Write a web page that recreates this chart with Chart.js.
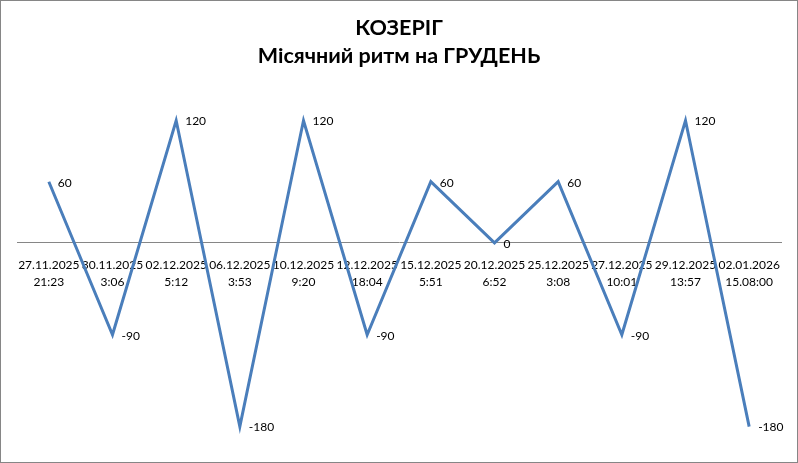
<!DOCTYPE html>
<html>
<head>
<meta charset="utf-8">
<script src="https://cdn.jsdelivr.net/npm/chart.js@4"></script>
<style>
  html, body { margin: 0; padding: 0; background: #fff; }
  #wrap { width: 798px; height: 463px; position: relative; }
</style>
</head>
<body>
<div id="wrap"><canvas id="rhythmChart"></canvas></div>
<script>
// дати та час (два рядки підпису)
const dateLabels = [
    ['27.11.2025', '21:23'],
    ['30.11.2025', '3:06'],
    ['02.12.2025', '5:12'],
    ['06.12.2025', '3:53'],
    ['10.12.2025', '9:20'],
    ['12.12.2025', '18:04'],
    ['15.12.2025', '5:51'],
    ['20.12.2025', '6:52'],
    ['25.12.2025', '3:08'],
    ['27.12.2025', '10:01'],
    ['29.12.2025', '13:57'],
    ['02.01.2026', '15.08:00']
];
const rhythmValues = [60, -90, 120, -180, 120, -90, 60, 0, 60, -90, 120, -180];
const titleLines = ['КОЗЕРІГ', 'Місячний ритм на ГРУДЕНЬ'];

const FONT = 'Lato, "Open Sans", sans-serif';

// підписи значень праворуч від точок
const valueLabels = {
    id: 'valueLabels',
    afterDatasetsDraw(chart) {
        const ctx = chart.ctx;
        const meta = chart.getDatasetMeta(0);
        ctx.save();
        ctx.font = '12px ' + FONT;
        ctx.fillStyle = '#000';
        ctx.textAlign = 'left';
        ctx.textBaseline = 'middle';
        meta.data.forEach((pt, i) => {
            ctx.fillText(String(rhythmValues[i]), pt.x + 9, pt.y + 1);
        });
        ctx.restore();
    }
};

// рамка навколо всього полотна
const outerBorder = {
    id: 'outerBorder',
    afterDraw(chart) {
        const ctx = chart.ctx;
        ctx.save();
        ctx.strokeStyle = '#868686';
        ctx.lineWidth = 1;
        ctx.strokeRect(0.5, 0.5, chart.width - 1, chart.height - 1);
        ctx.restore();
    }
};

new Chart(document.getElementById('rhythmChart'), {
    type: 'line',
    data: {
        labels: dateLabels,
        datasets: [{
            data: rhythmValues,
            borderColor: '#4A7EBB',
            borderWidth: 3,
            pointRadius: 0,
            tension: 0,
            fill: false
        }]
    },
    options: {
        responsive: true,
        maintainAspectRatio: false,
        animation: false,
        layout: { padding: { left: 17, right: 17, top: 0, bottom: 16 } },
        plugins: {
            legend: { display: false },
            tooltip: { enabled: false },
            title: {
                display: true,
                text: titleLines,
                color: '#000',
                font: { family: FONT, size: 21.5, weight: 'bold', lineHeight: 1.3 },
                padding: { top: 14, bottom: 20 }
            }
        },
        scales: {
            x: {
                position: { y: 0 },
                offset: true,
                grid: { display: false, drawTicks: false },
                border: { display: true, color: '#868686', width: 1 },
                ticks: {
                    autoSkip: false,
                    maxRotation: 0,
                    minRotation: 0,
                    padding: 14,
                    color: '#000',
                    font: { family: FONT, size: 12, lineHeight: 1.42 }
                },
                afterFit(scale) { scale.height = 0; }
            },
            y: {
                display: false,
                min: -200,
                max: 150
            }
        }
    },
    plugins: [valueLabels, outerBorder]
});
</script>
</body>
</html>
